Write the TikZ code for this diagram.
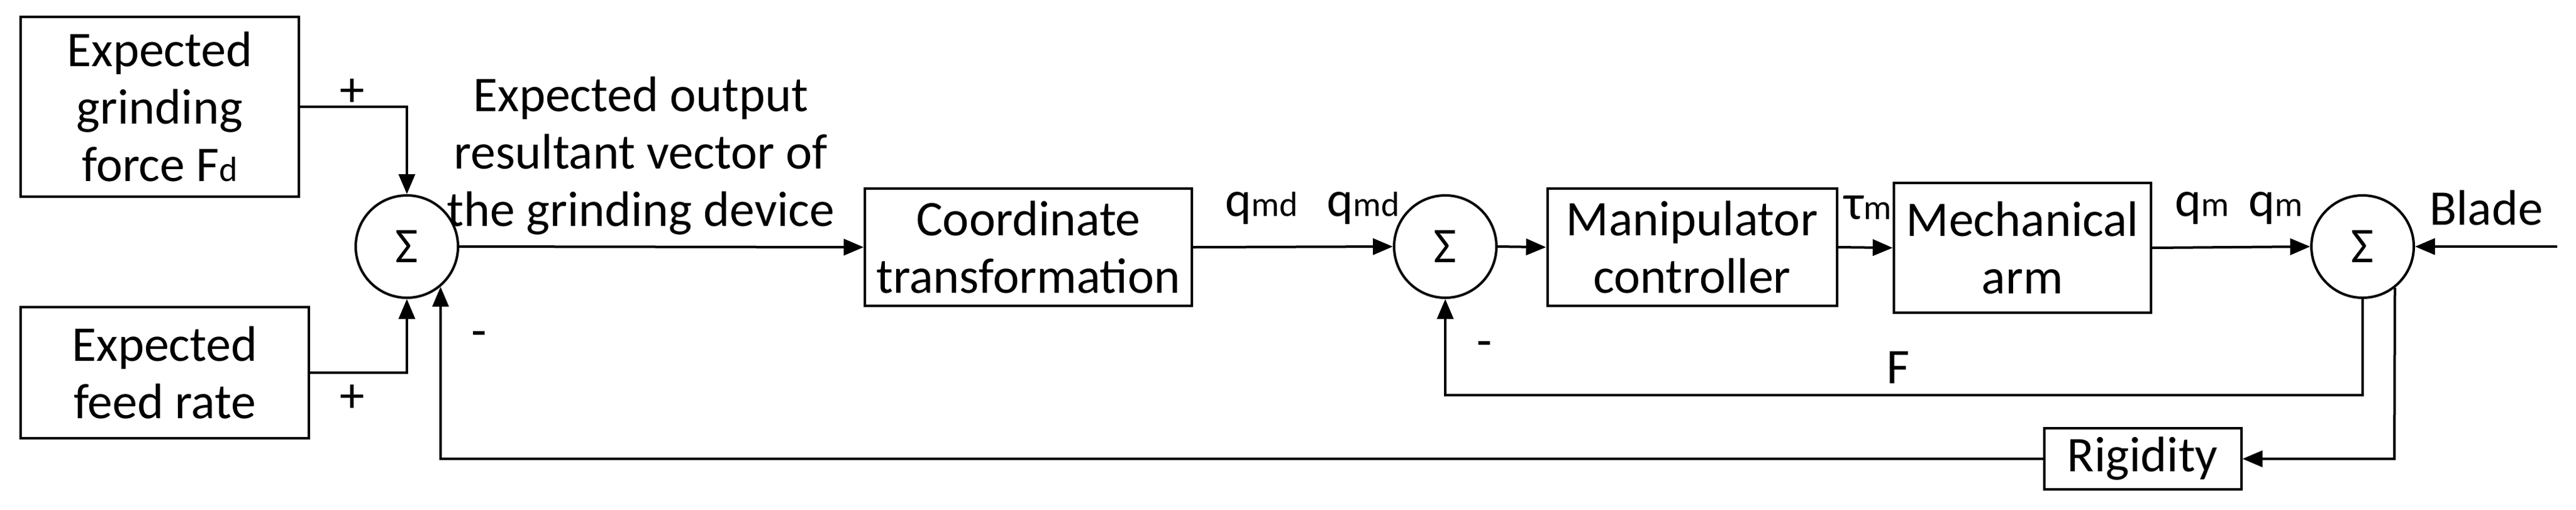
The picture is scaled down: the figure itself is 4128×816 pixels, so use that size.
\documentclass[tikz,border=0pt]{standalone}
\usepackage{fontspec}
\setmainfont{Carlito}
\usetikzlibrary{arrows.meta}
\begin{document}
\begin{tikzpicture}[x=0.25pt,y=-0.25pt,
  font=\fontsize{20}{23}\selectfont,
  box/.style={draw,line width=1pt,align=center,inner sep=0pt},
  sum/.style={draw,line width=1pt,circle,minimum size=41pt,inner sep=0pt},
  line/.style={line width=1pt},
  arr/.style={line width=1pt,-{Triangle[length=8pt,width=6.5pt]}},
  lbl/.style={inner sep=0pt}]
\useasboundingbox (0,0) rectangle (4128,816);
\newcommand{\sbs}[1]{{\fontsize{14}{14}\selectfont #1}}
\node[box,minimum width=111.5pt,minimum height=72pt] (b1) at (256,171) {Expected\\grinding\\force F\sbs{d}};
\node[box,minimum width=115.5pt,minimum height=52.5pt] (b2) at (264,597) {Expected\\feed rate};
\node[sum] (s1) at (652,395) {Σ};
\node[box,minimum width=131pt,minimum height=47pt] (ct) at (1648,396) {Coordinate\\transformation};
\node[sum] (s2) at (2316,395) {Σ};
\node[box,minimum width=116pt,minimum height=47pt] (mc) at (2711.5,396) {Manipulator\\controller};
\node[box,minimum width=103pt,minimum height=52pt] (ma) at (3241,397) {Mechanical\\arm};
\node[sum] (s3) at (3786,395) {Σ};
\node[box,minimum width=79pt,minimum height=24.5pt] (rg) at (3433.5,735) {Rigidity};
\coordinate (bl) at (4098,395);
\coordinate (f2) at (3786,633);
\coordinate (f1) at (3837,735);

\node[lbl,align=center] (tx) at (1027,250) {Expected output\\resultant vector of\\the grinding device};
\node[lbl] (p1) at (564,148) {+};
\node[lbl] (p2) at (564,638) {+};
\node[lbl] (m1) at (768,544) {-};
\node[lbl] (m2) at (2379,560) {-};
\node[lbl] (q1) at (2022,333) {q\sbs{md}};
\node[lbl] (q2) at (2185,333) {q\sbs{md}};
\node[lbl] (tm) at (2993,333) {τ\sbs{m}};
\node[lbl] (q3) at (3529,333) {q\sbs{m}};
\node[lbl] (q4) at (3647,333) {q\sbs{m}};
\node[lbl] (bt) at (3984,333) {Blade};
\node[lbl] (fl) at (3042,589) {F};

\draw[arr] (b1.east) -| (s1.north);
\draw[arr] (b2.east) -| (s1.south);
\draw[arr] (s1.east) -- (ct.west);
\draw[arr] (ct.east) -- (s2.west);
\draw[arr] (s2.east) -- (mc.west);
\draw[arr] (mc.east) -- (ma.west);
\draw[arr] (ma.east) -- (s3.west);
\draw[arr] (bl) -- (s3.east);
\draw[arr] (s3.south) -- (f2) -| (s2.south);
\draw[arr] (s3.-52) -- (f1) -- (rg.east);
\draw[arr] (rg.west) -| (s1.-50);
\end{tikzpicture}
\end{document}
